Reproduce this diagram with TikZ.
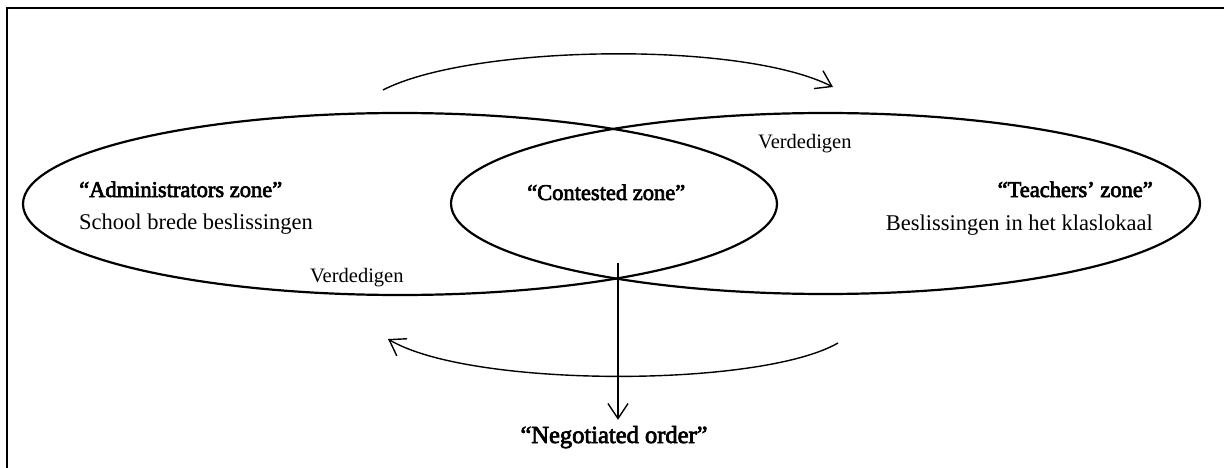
\documentclass[tikz,border=0pt]{standalone}
\usepackage{fontspec}
\setmainfont{Liberation Serif}
\newfontfamily\heavyfont[FakeBold=3]{Liberation Serif}
\usetikzlibrary{shapes.geometric,arrows.meta}
\begin{document}
\begin{tikzpicture}[x=1pt,y=-1pt,
  zone/.style={draw, ellipse, line width=2.2pt, inner sep=0pt, outer sep=0pt},
  lbl/.style={inner sep=0pt, anchor=base west, font=\fontsize{22.5}{27}\selectfont},
  title/.style={inner sep=0pt, anchor=base west, font=\heavyfont\fontsize{22.5}{27}\selectfont},
  small/.style={inner sep=0pt, anchor=base west, font=\fontsize{20.5}{24}\selectfont},
  flow/.style={line width=1.4pt, -{Straight Barb[length=15pt,width=20pt,line width=1.4pt]}},
]
\useasboundingbox (0,0) rectangle (1224,468);
\draw[line width=2.3pt] (7,480) -- (7,8) -- (1240,8);

\node[zone, minimum width=754pt, minimum height=182pt] (admin) at (400,204) {};
\node[zone, minimum width=749pt, minimum height=181pt] (teach) at (825.5,203.5) {};

\node[title] (adminT) at (79,197) {“Administrators zone”};
\node[lbl] (adminD) at (79,229) {School brede beslissingen};
\node[title] (contT) at (527,200) {“Contested zone”};
\node[title, anchor=base east] (teachT) at (1153,197) {“Teachers’ zone”};
\node[lbl, anchor=base east] (teachD) at (1153,230) {Beslissingen in het klaslokaal};
\node[small] (defR) at (758,149) {Verdedigen};
\node[small] (defL) at (310,282) {Verdedigen};
\node[title, font=\heavyfont\fontsize{24.5}{29}\selectfont, anchor=base] (neg) at (614,443) {“Negotiated order”};

\coordinate (topS) at (383,90);
\coordinate (topE) at (833,87);
\draw[flow] (topS) .. controls (470,45) and (740,40) .. (topE);
\coordinate (botS) at (838,343);
\coordinate (botE) at (388,339);
\draw[flow] (botS) .. controls (760,388) and (470,388) .. (botE);
\coordinate (vS) at (618,263);
\draw[flow, shorten >=6pt] (vS) -- (vS |- neg.north);
\end{tikzpicture}
\end{document}
